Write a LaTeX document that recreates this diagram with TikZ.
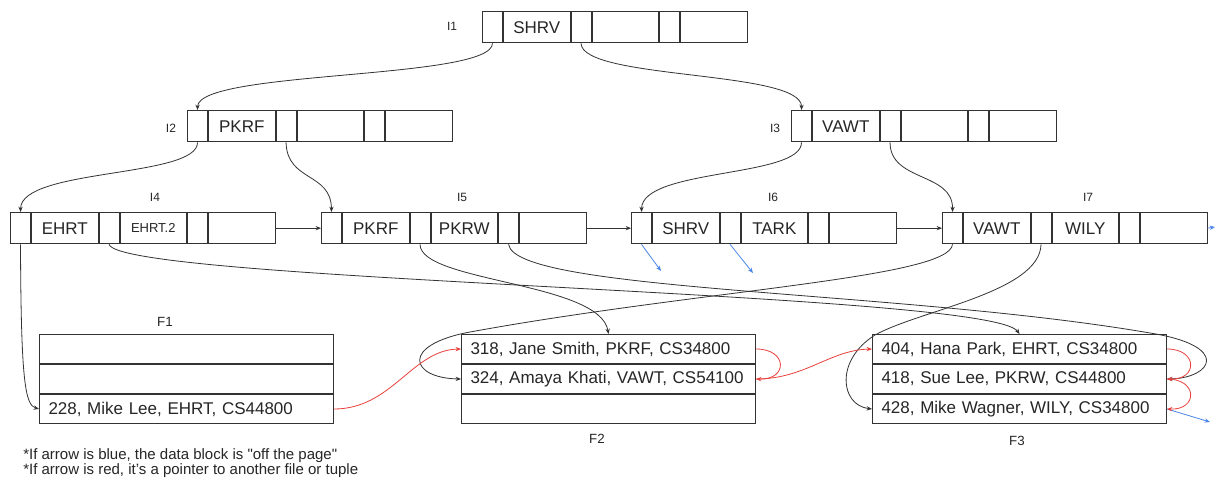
\documentclass[tikz,border=0pt]{standalone}
\usepackage{fontspec}
\setmainfont{Liberation Sans}
\newfontfamily\notefont{Liberation Sans}
\usetikzlibrary{arrows.meta}
\definecolor{ln}{HTML}{333333}
\definecolor{redln}{HTML}{E8413C}
\definecolor{blueln}{HTML}{4A86E8}
\definecolor{txt}{HTML}{262626}
\tikzset{
 cell/.style={draw=ln, line width=0.75pt, inner sep=0pt, minimum height=23.5pt, anchor=north west, font=\fontsize{12.75}{14}\selectfont, text=txt},
 pc/.style={cell, minimum width=15pt},
 kc/.style={cell, minimum width=49.9pt},
 rec/.style={draw=ln, line width=0.75pt, anchor=north west, minimum height=21.75pt, inner xsep=6.75pt, inner ysep=0pt, text width=207pt, align=left, font=\fontsize{12.75}{14}\selectfont, text=txt},
 lbl/.style={font=\fontsize{9}{10}\selectfont, text=txt},
 flbl/.style={font=\fontsize{10}{11}\selectfont, text=txt},
 link/.style={draw=ln, line width=0.6pt, -{Stealth[length=4pt,width=3.2pt]}},
 rlink/.style={link, draw=redln},
 blink/.style={link, draw=blueln},
}
\newcommand\iblock[6]{%
 \node[pc] (#1p0) at (#2,#3) {};
 \node[kc] (#1k1) at (#1p0.north east) {#4};
 \node[pc] (#1p1) at (#1k1.north east) {};
 \node[kc] (#1k2) at (#1p1.north east) {#5};
 \node[pc] (#1p2) at (#1k2.north east) {};
 \node[kc] (#1k3) at (#1p2.north east) {#6};
}
\begin{document}
\begin{tikzpicture}[x=0.75pt,y=-0.75pt]
\useasboundingbox[fill=white] (0,0) rectangle (1217,479);

% index blocks
\iblock{I1}{482}{11}{SHRV}{}{}
\iblock{I2}{187}{110}{PKRF}{}{}
\iblock{I3}{791}{110}{VAWT}{}{}
\iblock{I4}{10}{212}{EHRT}{{\fontsize{9.75}{11}\selectfont EHRT.2}}{}
\iblock{I5}{321}{212}{PKRF}{PKRW}{}
\iblock{I6}{631}{212}{SHRV}{TARK}{}
\iblock{I7}{942}{212}{VAWT}{WILY}{}

\node[lbl] (L1) at (452,26) {I1};
\node[lbl] (L2) at (171,128) {I2};
\node[lbl] (L3) at (775,128) {I3};
\node[lbl] (L4) at (155,197) {I4};
\node[lbl] (L5) at (462,197) {I5};
\node[lbl] (L6) at (773,197) {I6};
\node[lbl] (L7) at (1088,197) {I7};

% file blocks
\node[rec] (F1r1) at (39,334) {};
\node[rec] (F1r2) at (F1r1.south west) {};
\node[rec] (F1r3) at (F1r2.south west) {228, Mike Lee, EHRT, CS44800};
\node[rec] (F2r1) at (461,334) {318, Jane Smith, PKRF, CS34800};
\node[rec] (F2r2) at (F2r1.south west) {324, Amaya Khati, VAWT, CS54100};
\node[rec] (F2r3) at (F2r2.south west) {};
\node[rec] (F3r1) at (872,334) {404, Hana Park, EHRT, CS34800};
\node[rec] (F3r2) at (F3r1.south west) {418, Sue Lee, PKRW, CS44800};
\node[rec] (F3r3) at (F3r2.south west) {428, Mike Wagner, WILY, CS34800};

\node[flbl] (LF1) at (165,322) {F1};
\node[flbl] (LF2) at (597,439) {F2};
\node[flbl] (LF3) at (1017,441) {F3};

\node[anchor=north west, inner sep=0pt, align=left, font=\notefont\fontsize{11.25}{11.25}\selectfont, text=txt] (note) at (23,448)
 {*If arrow is blue, the data block is "off the page"\\*If arrow is red, it’s a pointer to another file or tuple};

% tree pointers
\draw[link] (I1p0.south) .. controls (492,80) and (198,70) .. (I2p0.north);
\draw[link] (I1p1.south) .. controls (582,80) and (802,70) .. (I3p0.north);
\draw[link] (I2p0.south) .. controls (198,178) and (21,168) .. (I4p0.north);
\draw[link] (I2p1.south) .. controls (287,182) and (331,172) .. (I5p0.north);
\draw[link] (I3p0.south) .. controls (802,178) and (642,168) .. (I6p0.north);
\draw[link] (I3p1.south) .. controls (890,182) and (953,172) .. (I7p0.north);

% sibling pointers
\draw[link] (I4k3.east) -- (I5p0.west);
\draw[link] (I5k3.east) -- (I6p0.west);
\draw[link] (I6k3.east) -- (I7p0.west);

% leaf pointers to records
\draw[link] (I4p0.south) .. controls (21,380) and (25,405) .. (F1r3.west);
\draw[link] (I4p1.south) .. controls (120,282) and (990,292) .. (F3r1.north);
\draw[link] (I5p1.south) .. controls (420,282) and (600,282) .. (F2r1.north);
\draw[link] (I5p2.south) .. controls (515,292) and (900,290) .. (1150,333) .. controls (1232,346) and (1212,378) .. (F3r2.east);
\draw[link] (I7p0.south) .. controls (950,278) and (700,290) .. (470,332) .. controls (400,345) and (410,378) .. (F2r2.west);
\draw[link] (I7p1.south) .. controls (1040,292) and (920,310) .. (875,335) .. controls (835,360) and (840,405) .. (F3r3.west);

% off-page (blue)
\coordinate (b1) at (661,271);
\coordinate (b2) at (753,273);
\coordinate (b3) at (1215,227);
\coordinate (b4) at (1210,422);
\draw[blink] (I6p0.south) -- (b1);
\draw[blink] (I6p1.south) -- (b2);
\draw[blink] (I7k3.east) -- (b3);
\draw[blink] (F3r3.east) -- (b4);

% record chain (red)
\draw[rlink] (F1r3.east) .. controls (392,409) and (412,350) .. (F2r1.west);
\draw[rlink] (F2r1.east) .. controls (788,349) and (788,380) .. (F2r2.east);
\draw[rlink] (F2r2.east) .. controls (805,379) and (830,350) .. (F3r1.west);
\draw[rlink] (F3r1.east) .. controls (1198,349) and (1198,380) .. (F3r2.east);
\draw[rlink] (F3r2.east) .. controls (1198,379) and (1198,410) .. (F3r3.east);
\end{tikzpicture}
\end{document}
